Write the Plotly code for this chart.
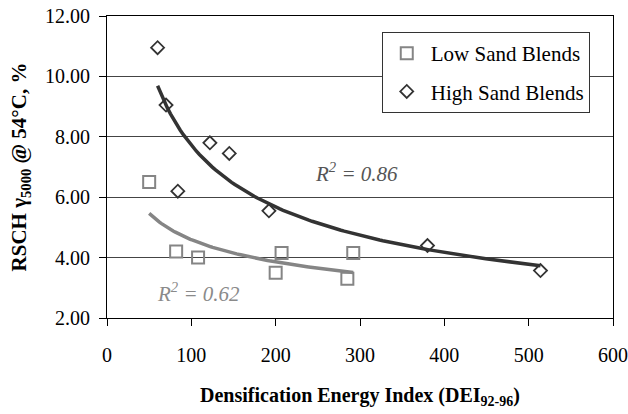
import numpy as np
import plotly.graph_objects as go

# Data
low_x = [50, 82, 108, 200, 207, 285, 292]
low_y = [6.50, 4.20, 4.00, 3.50, 4.15, 3.30, 4.15]
high_x = [60, 70, 84, 122, 145, 192, 380, 514]
high_y = [10.95, 9.05, 6.20, 7.80, 7.45, 5.55, 4.40, 3.57]
x_ticks = [0, 100, 200, 300, 400, 500, 600]
y_ticks = [2, 4, 6, 8, 10, 12]
y_tick_text = ["2.00", "4.00", "6.00", "8.00", "10.00", "12.00"]
r2_low_text = "<i>R<sup>2</sup> = 0.62</i>"
r2_high_text = "<i>R<sup>2</sup> = 0.86</i>"

def power_fit(xs, ys):
    b, ln_a = np.polyfit(np.log(xs), np.log(ys), 1)
    xx = np.linspace(min(xs), max(xs), 120)
    return xx, np.exp(ln_a) * xx ** b

FONT = "Liberation Serif, Times New Roman, serif"
C_HIGH = "#333333"
C_LOW = "#858585"

fig = go.Figure()

lx, ly = power_fit(low_x, low_y)
hx, hy = power_fit(high_x, high_y)

fig.add_trace(go.Scatter(x=lx, y=ly, mode="lines", line=dict(color=C_LOW, width=3.5),
                         showlegend=False, hoverinfo="skip"))
fig.add_trace(go.Scatter(x=hx, y=hy, mode="lines", line=dict(color=C_HIGH, width=3.5),
                         showlegend=False, hoverinfo="skip"))

fig.add_trace(go.Scatter(x=low_x, y=low_y, mode="markers", name="Low Sand Blends",
                         legendgroup="low",
                         marker=dict(symbol="square-open", size=12, color=C_LOW,
                                     line=dict(width=2, color=C_LOW))))
fig.add_trace(go.Scatter(x=high_x, y=high_y, mode="markers", name="High Sand Blends",
                         legendgroup="high",
                         marker=dict(symbol="diamond-open", size=10, color=C_HIGH,
                                     line=dict(width=1.8, color=C_HIGH))))

fig.add_annotation(x=296, y=6.83, text=r2_high_text, showarrow=False,
                   font=dict(family=FONT, size=21, color="#555555"), xref="x", yref="y")
fig.add_annotation(x=109, y=2.86, text=r2_low_text, showarrow=False,
                   font=dict(family=FONT, size=21, color="#8a8a8a"), xref="x", yref="y")

fig.update_layout(
    width=628, height=414,
    margin=dict(l=107, r=15, t=16, b=96),
    paper_bgcolor="white", plot_bgcolor="white",
    font=dict(family=FONT, size=20, color="black"),
    legend=dict(x=0.543, y=0.947, xanchor="left", yanchor="top",
                bgcolor="white", bordercolor="#333333", borderwidth=1,
                font=dict(family=FONT, size=21), tracegroupgap=8,
                traceorder="grouped", itemwidth=38),
    xaxis=dict(range=[0, 600], tickvals=x_ticks, ticks="outside", ticklen=7,
               tickcolor="black", showline=True, linecolor="black", linewidth=1,
               mirror=True, showgrid=False, zeroline=False, ticklabelstandoff=12,
               automargin=False,
               tickfont=dict(family=FONT, size=20),
               title=dict(text="<b>Densification Energy Index (DEI<sub>92-96</sub>)</b>",
                          font=dict(family=FONT, size=20), standoff=22)),
    yaxis=dict(range=[2, 12], tickvals=y_ticks, ticktext=y_tick_text, ticks="outside",
               ticklen=7, tickcolor="black", showline=True, linecolor="black", linewidth=1,
               mirror=True, showgrid=True, gridcolor="#444444", gridwidth=1, zeroline=False,
               ticklabelstandoff=5, automargin=False,
               tickfont=dict(family=FONT, size=20),
               title=dict(text="<b>RSCH γ<sub>5000</sub> @ 54°C, %</b>",
                          font=dict(family=FONT, size=21), standoff=12)),
)

fig.write_html("out.html")
